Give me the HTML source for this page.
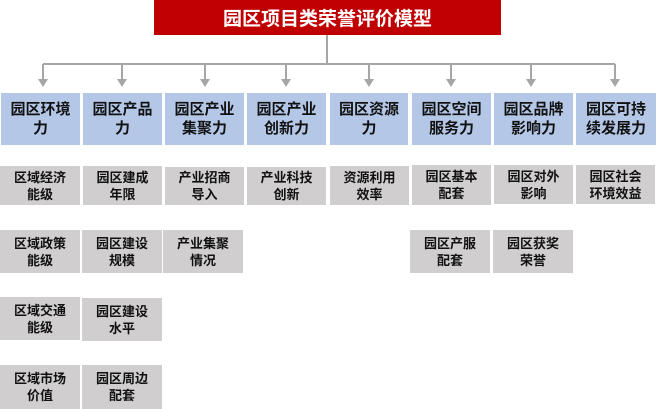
<!DOCTYPE html>
<html><head><meta charset="utf-8"><style>
body{margin:0;width:656px;height:409px;background:#fff;position:relative;overflow:hidden;font-family:"Liberation Sans","Noto Sans CJK SC",sans-serif;}
.t{position:absolute;left:154px;top:0;width:347px;height:35px;background:#c00000;color:#fff;font-weight:bold;font-size:19px;display:flex;align-items:center;justify-content:center;}
.b{position:absolute;display:flex;align-items:center;justify-content:center;text-align:center;font-weight:bold;color:#111;}
.bl{background:#b4c7e7;top:93px;height:52px;font-size:15px;line-height:19px;}
.g{background:#d0cece;font-size:13px;line-height:17px;}
</style></head><body>
<div class="t">园区项目类荣誉评价模型</div>
<svg width="656" height="409" style="position:absolute;left:0;top:0">
<g stroke="#a6a6a6" stroke-width="2" fill="none">
<line x1="327" y1="35" x2="327" y2="64"/>
<line x1="43" y1="64" x2="615" y2="64"/>
<line x1="43" y1="64" x2="43" y2="80"/><line x1="122" y1="64" x2="122" y2="80"/><line x1="205" y1="64" x2="205" y2="80"/><line x1="286" y1="64" x2="286" y2="80"/><line x1="369" y1="64" x2="369" y2="80"/><line x1="451" y1="64" x2="451" y2="80"/><line x1="531" y1="64" x2="531" y2="80"/><line x1="615" y1="64" x2="615" y2="80"/>
</g>
<g fill="#a6a6a6">
<polygon points="38,79 48,79 43,87"/><polygon points="117,79 127,79 122,87"/><polygon points="200,79 210,79 205,87"/><polygon points="281,79 291,79 286,87"/><polygon points="364,79 374,79 369,87"/><polygon points="446,79 456,79 451,87"/><polygon points="526,79 536,79 531,87"/><polygon points="610,79 620,79 615,87"/>
</g></svg>
<div class="b bl" style="left:1px;width:79px">园区环境<br>力</div>
<div class="b bl" style="left:83px;width:79px">园区产品<br>力</div>
<div class="b bl" style="left:165px;width:79px">园区产业<br>集聚力</div>
<div class="b bl" style="left:247px;width:79px">园区产业<br>创新力</div>
<div class="b bl" style="left:330px;width:78px">园区资源<br>力</div>
<div class="b bl" style="left:412px;width:79px">园区空间<br>服务力</div>
<div class="b bl" style="left:494px;width:79px">园区品牌<br>影响力</div>
<div class="b bl" style="left:576px;width:80px">园区可持<br>续发展力</div>

<div class="b g" style="left:0;top:166px;width:80px;height:39px">区域经济<br>能级</div>
<div class="b g" style="left:83px;top:166px;width:79px;height:39px">园区建成<br>年限</div>
<div class="b g" style="left:165px;top:167px;width:79px;height:38px">产业招商<br>导入</div>
<div class="b g" style="left:247px;top:167px;width:79px;height:38px">产业科技<br>创新</div>
<div class="b g" style="left:330px;top:166px;width:79px;height:39px">资源利用<br>效率</div>
<div class="b g" style="left:412px;top:165px;width:79px;height:40px">园区基本<br>配套</div>
<div class="b g" style="left:494px;top:165px;width:79px;height:39px">园区对外<br>影响</div>
<div class="b g" style="left:576px;top:165px;width:79px;height:39px">园区社会<br>环境效益</div>

<div class="b g" style="left:0;top:230px;width:80px;height:43px">区域政策<br>能级</div>
<div class="b g" style="left:82px;top:230px;width:80px;height:43px">园区建设<br>规模</div>
<div class="b g" style="left:163px;top:230px;width:80px;height:43px">产业集聚<br>情况</div>
<div class="b g" style="left:410px;top:230px;width:80px;height:43px">园区产服<br>配套</div>
<div class="b g" style="left:493px;top:230px;width:80px;height:43px">园区获奖<br>荣誉</div>

<div class="b g" style="left:0;top:297px;width:80px;height:43px">区域交通<br>能级</div>
<div class="b g" style="left:82px;top:298px;width:80px;height:43px">园区建设<br>水平</div>

<div class="b g" style="left:0;top:365px;width:80px;height:44px">区域市场<br>价值</div>
<div class="b g" style="left:82px;top:365px;width:80px;height:44px">园区周边<br>配套</div>
</body></html>
